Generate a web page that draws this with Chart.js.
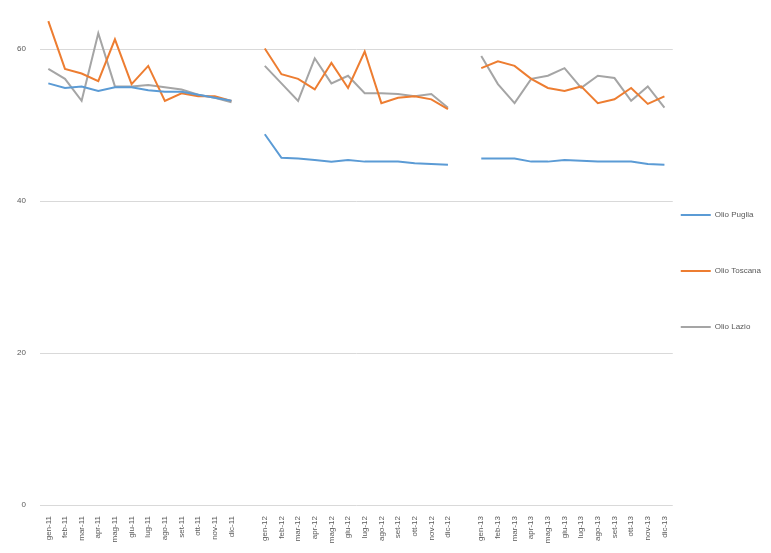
<!DOCTYPE html>
<html>
<head>
<meta charset="utf-8">
<script src="https://cdn.jsdelivr.net/npm/chart.js@4/dist/chart.umd.min.js"></script>
<style>
  html, body { margin: 0; padding: 0; background: #fff; }
  #wrap { width: 771px; height: 553px; }
</style>
</head>
<body>
<div id="wrap"><canvas id="chart"></canvas></div>
<script>
// Three years of monthly values, a blank slot between years
const months = ['gen', 'feb', 'mar', 'apr', 'mag', 'giu', 'lug', 'ago', 'set', 'ott', 'nov', 'dic'];
const years = ['11', '12', '13'];

const seriesNames = ['Olio Puglia', 'Olio Toscana', 'Olio Lazio'];
const seriesColors = ['#5B9BD5', '#ED7D31', '#A5A5A5'];

const pugliaValues = [
    [55.5, 54.9, 55.1, 54.5, 55.0, 55.0, 54.6, 54.4, 54.4, 54.0, 53.6, 53.2],
    [48.8, 45.7, 45.6, 45.4, 45.2, 45.4, 45.2, 45.2, 45.2, 45.0, 44.9, 44.8],
    [45.6, 45.6, 45.6, 45.2, 45.2, 45.4, 45.3, 45.2, 45.2, 45.2, 44.9, 44.8]
];
const toscanaValues = [
    [63.7, 57.4, 56.8, 55.8, 61.3, 55.4, 57.8, 53.2, 54.2, 53.8, 53.8, 53.2],
    [60.1, 56.7, 56.1, 54.7, 58.2, 54.9, 59.7, 52.9, 53.6, 53.8, 53.4, 52.1],
    [57.5, 58.4, 57.8, 56.1, 54.9, 54.5, 55.1, 52.9, 53.4, 54.9, 52.8, 53.8]
];
const lazioValues = [
    [57.4, 56.1, 53.2, 62.1, 55.1, 55.1, 55.3, 55.0, 54.7, 54.0, 53.6, 53.0],
    [57.8, 55.5, 53.2, 58.8, 55.5, 56.5, 54.2, 54.2, 54.1, 53.8, 54.1, 52.3],
    [59.1, 55.4, 52.9, 56.1, 56.5, 57.5, 54.9, 56.5, 56.2, 53.2, 55.1, 52.3]
];

const yTicks = [0, 20, 40, 60];

// join the year blocks, with a null gap between them
function withGaps(blocks) {
    const out = [];
    blocks.forEach((b, i) => {
        if (i > 0) out.push(null);
        out.push(...b);
    });
    return out;
}

const labels = withGaps(years.map(y => months.map(m => m + '-' + y)))
    .map(l => l === null ? '' : l);

const allValues = [pugliaValues, toscanaValues, lazioValues];

// legend entries get blank extra lines so they sit far apart, like the original
function spacedLegend(chart) {
    const items = Chart.defaults.plugins.legend.labels.generateLabels(chart);
    items.forEach((item, i) => {
        const blanks = i < items.length - 1 ? 4 : 1;
        item.text = [item.text].concat(Array(blanks).fill(''));
    });
    return items;
}

const ctx = document.getElementById('chart').getContext('2d');
new Chart(ctx, {
    type: 'line',
    data: {
        labels: labels,
        datasets: seriesNames.map((name, i) => ({
            label: name,
            data: withGaps(allValues[i]),
            borderColor: seriesColors[i],
            backgroundColor: seriesColors[i],
            borderWidth: 2,
            pointRadius: 0,
            tension: 0,
            spanGaps: false,
            fill: false,
            clip: false
        }))
    },
    options: {
        responsive: true,
        maintainAspectRatio: false,
        animation: false,
        layout: { padding: { top: 0, right: 0, bottom: 0, left: 0 } },
        plugins: {
            legend: {
                position: 'right',
                labels: {
                    usePointStyle: true,
                    pointStyle: 'line',
                    pointStyleWidth: 30,
                    padding: 8,
                    color: '#595959',
                    font: { family: 'Liberation Sans', size: 8 },
                    generateLabels: spacedLegend
                }
            },
            tooltip: { enabled: false }
        },
        scales: {
            x: {
                offset: true,
                grid: { display: false },
                border: { display: false },
                ticks: {
                    autoSkip: false,
                    minRotation: 90,
                    maxRotation: 90,
                    color: '#595959',
                    font: { family: 'Liberation Sans', size: 8 }
                },
                afterFit: scale => { scale.height = 48; }
            },
            y: {
                min: 0,
                max: 64,
                afterBuildTicks: axis => {
                    axis.ticks = yTicks.map(v => ({ value: v }));
                },
                grid: { color: '#D9D9D9', drawTicks: false },
                border: { display: false },
                ticks: {
                    padding: 14,
                    color: '#595959',
                    font: { family: 'Liberation Sans', size: 8 }
                },
                afterFit: scale => { scale.width = 40; }
            }
        }
    }
});
</script>
</body>
</html>
